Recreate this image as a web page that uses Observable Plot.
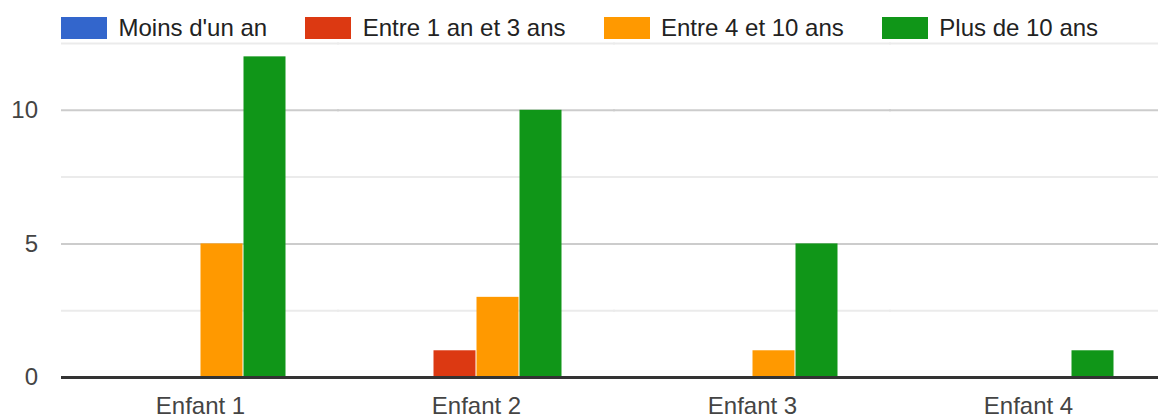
<!DOCTYPE html>
<html>
<head>
<meta charset="utf-8">
<script src="https://cdn.jsdelivr.net/npm/d3@7"></script>
<script src="https://cdn.jsdelivr.net/npm/@observablehq/plot@0.6"></script>
<style>
  html, body { margin: 0; padding: 0; background: #fff; }
  body { width: 1158px; height: 417px; overflow: hidden; font-family: Arial, "Liberation Sans", sans-serif; }
  #legend { height: 42px; box-sizing: border-box; padding-top: 17px; padding-left: 61px; display: flex; gap: 38px; }
  .item { display: flex; align-items: center; height: 22px; font-size: 24px; color: #222; white-space: nowrap; }
  .sw { width: 46px; height: 22px; margin-right: 11.5px; }
</style>
</head>
<body>
<div id="legend"></div>
<div id="chart"></div>
<script>
const categories = ["Enfant 1", "Enfant 2", "Enfant 3", "Enfant 4"];
const series = ["Moins d'un an", "Entre 1 an et 3 ans", "Entre 4 et 10 ans", "Plus de 10 ans"];
const colors = ["#3366cc", "#dc3912", "#ff9900", "#109618"];
const moinsUnAn = [0, 0, 0, 0];
const entre1et3 = [0, 1, 0, 0];
const entre4et10 = [5, 3, 1, 0];
const plus10 = [12, 10, 5, 1];
const yTicks = [0, 5, 10];
const majorGrid = [5, 10];
const minorGrid = [2.5, 7.5, 12.5];

const seriesValues = [moinsUnAn, entre1et3, entre4et10, plus10];
const data = categories.flatMap((c, i) =>
  series.map((s, j) => ({ enfant: c, serie: s, value: seriesValues[j][i] }))
);

const legend = document.getElementById("legend");
series.forEach((s, j) => {
  const item = document.createElement("div");
  item.className = "item";
  const sw = document.createElement("span");
  sw.className = "sw";
  sw.style.background = colors[j];
  item.appendChild(sw);
  item.appendChild(document.createTextNode(s));
  legend.appendChild(item);
});

const ext = 53;
const chart = Plot.plot({
  width: 1158,
  height: 375,
  marginLeft: 61,
  marginRight: 1,
  marginTop: 1,
  marginBottom: 40,
  style: { fontFamily: 'Arial, "Liberation Sans", sans-serif', fontSize: "24px", color: "#444", background: "white", overflow: "visible" },
  fx: { domain: categories, paddingInner: 0.3775, paddingOuter: 0.172, align: 0.55, label: null, tickSize: 0, tickPadding: 19 },
  x: { domain: series, padding: 0, axis: null },
  y: { domain: [0, 12.5], axis: null },
  color: { domain: series, range: colors },
  marks: [
    Plot.ruleY(minorGrid, { stroke: "#ebebeb", strokeWidth: 2, insetLeft: -ext, insetRight: -ext }),
    Plot.ruleY(majorGrid, { stroke: "#cccccc", strokeWidth: 2, insetLeft: -ext, insetRight: -ext }),
    Plot.barY(data, { fx: "enfant", x: "serie", y: "value", fill: "serie", insetLeft: 0.5, insetRight: 0.5 }),
    Plot.ruleY([0], { stroke: "#333333", strokeWidth: 3, insetLeft: -ext, insetRight: -ext }),
    Plot.axisY({ ticks: yTicks, tickSize: 0, tickPadding: 24 + 52.5, label: null, fill: "#444" })
  ]
});
document.getElementById("chart").appendChild(chart);
</script>
</body>
</html>
